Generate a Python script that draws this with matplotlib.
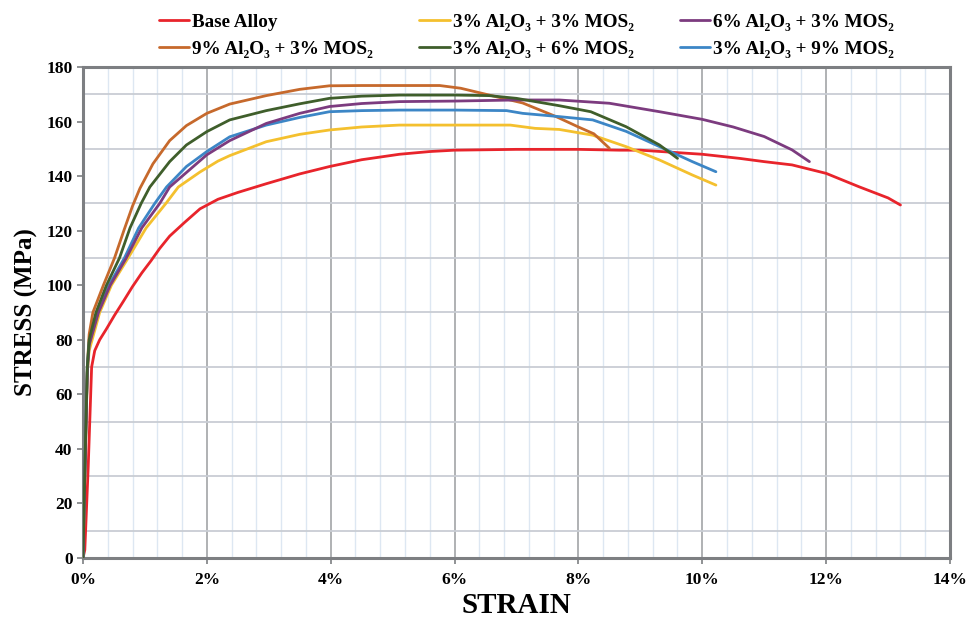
import matplotlib
matplotlib.use("Agg")
import matplotlib.pyplot as plt
from matplotlib.ticker import MultipleLocator, FixedLocator, FuncFormatter

# Tensile curves: strain (%) vs stress (MPa)
base_strain = [0, 0.03, 0.085, 0.14, 0.19, 0.27, 0.38, 0.51, 0.65, 0.80, 0.95, 1.10, 1.24, 1.40, 1.64,
               1.89, 2.18, 2.5, 2.96, 3.5, 3.98, 4.5, 5.11, 5.6, 6.0, 7.0, 8.0, 8.66, 9.0, 10.0, 10.6,
               11.0, 11.45, 12.0, 12.53, 13.0, 13.2]
base_stress = [0, 3, 33.5, 70, 76, 80, 84, 89, 94, 99.5, 104.5, 109, 113.5, 118, 123,
               128, 131.5, 134, 137.2, 140.8, 143.5, 146, 148, 149, 149.5, 149.8, 149.8, 149.5, 149.5, 148, 146.5,
               145.3, 144.1, 141, 136.1, 132, 129.4]

a9m3_strain = [0, 0.04, 0.07, 0.10, 0.16, 0.33, 0.51, 0.66, 0.80, 0.92, 1.13, 1.40, 1.67, 2.0, 2.37,
               2.96, 3.5, 3.98, 4.5, 5.11, 5.76, 6.1, 6.56, 7.1, 7.64, 8.0, 8.25, 8.5]
a9m3_stress = [0, 40, 70, 82, 90, 100, 110, 120, 129, 135.5, 144.5, 153, 158.5, 163, 166.4,
               169.5, 171.8, 173.1, 173.2, 173.2, 173.2, 172.2, 169.7, 166.8, 161.8, 158, 155.5, 150.2]

a3m3_strain = [0, 0.04, 0.07, 0.10, 0.27, 0.46, 0.73, 1.02, 1.34, 1.54, 1.89, 2.18, 2.37, 2.96, 3.5,
               3.98, 4.5, 5.11, 6.0, 6.9, 7.3, 7.69, 8.23, 8.77, 9.31, 9.84, 10.22]
a3m3_stress = [0, 40, 68, 76, 90, 100, 110, 121, 130, 136, 141.5, 145.5, 147.5, 152.6, 155.3,
               156.9, 158, 158.7, 158.7, 158.7, 157.5, 157.1, 155, 150.8, 145.9, 140.4, 136.7]

a3m6_strain = [0, 0.04, 0.07, 0.10, 0.21, 0.38, 0.59, 0.76, 0.94, 1.08, 1.40, 1.67, 2.0, 2.37, 2.96,
               3.5, 3.98, 4.5, 5.11, 6.0, 6.56, 7.0, 7.69, 8.2, 8.77, 9.31, 9.6]
a3m6_stress = [0, 42, 70, 80, 90, 100, 110, 121, 130, 136, 145.3, 151.4, 156.3, 160.6, 164,
               166.5, 168.5, 169.3, 169.7, 169.7, 169.5, 168.5, 165.8, 163.6, 158.1, 151.4, 146.5]

a6m3_strain = [0, 0.04, 0.07, 0.10, 0.25, 0.44, 0.70, 0.95, 1.24, 1.40, 2.0, 2.37, 2.96, 3.5, 3.98,
               4.5, 5.11, 6.0, 7.0, 7.69, 8.5, 9.31, 10.0, 10.5, 11.0, 11.45, 11.73]
a6m3_stress = [0, 40, 68, 78, 90, 100, 110, 121, 130, 136, 147.8, 153, 159.3, 163, 165.5,
               166.6, 167.3, 167.5, 167.9, 167.9, 166.7, 163.6, 160.8, 158, 154.5, 149.6, 145.3]

a3m9_strain = [0, 0.04, 0.07, 0.10, 0.24, 0.42, 0.67, 0.90, 1.16, 1.35, 1.67, 2.0, 2.37, 2.96, 3.5,
               3.98, 4.5, 5.11, 6.0, 6.84, 7.1, 7.69, 8.23, 8.77, 9.31, 9.84, 10.22]
a3m9_stress = [0, 42, 70, 79, 90, 100, 110, 121, 130, 136, 143.5, 149, 154.4, 158.7, 161.5,
               163.6, 164, 164.2, 164.2, 164, 163, 161.8, 160.6, 156.4, 150.8, 145.3, 141.6]

labels = ["Base Alloy",
          "9% Al\u2082O\u2083 + 3% MOS\u2082",
          "3% Al\u2082O\u2083 + 3% MOS\u2082",
          "3% Al\u2082O\u2083 + 6% MOS\u2082",
          "6% Al\u2082O\u2083 + 3% MOS\u2082",
          "3% Al\u2082O\u2083 + 9% MOS\u2082"]
series = [(base_strain, base_stress), (a9m3_strain, a9m3_stress), (a3m3_strain, a3m3_stress),
          (a3m6_strain, a3m6_stress), (a6m3_strain, a6m3_stress), (a3m9_strain, a3m9_stress)]
colors = ["#e8242b", "#c6692c", "#f4c02e", "#3f5e2b", "#7c3b7f", "#3c86c6"]

x_ticks = [0, 2, 4, 6, 8, 10, 12, 14]
y_ticks = [0, 20, 40, 60, 80, 100, 120, 140, 160, 180]
h_grid = [10, 30, 50, 70, 90, 110, 130, 150, 170]

serif = ["Liberation Serif", "DejaVu Serif"]
plt.rcParams["font.family"] = serif

fig = plt.figure(figsize=(9.68, 6.23), dpi=100)
ax = fig.add_axes([0.0857, 0.1043, 0.8957, 0.7882])

# draw order: base alloy and yellow below, others above
z_order = [2, 3, 2.5, 3.2, 3.1, 3.05]
handles = []
for (xs, ys), lab, col, z in zip(series, labels, colors, z_order):
    h, = ax.plot(xs, ys, color=col, lw=2.0, label=lab, zorder=z,
                 solid_joinstyle="round", solid_capstyle="round")
    handles.append(h)

ax.set_xlim(0, 14)
ax.set_ylim(0, 180)
ax.xaxis.set_major_locator(FixedLocator(x_ticks))
ax.xaxis.set_minor_locator(MultipleLocator(0.4))
ax.yaxis.set_major_locator(FixedLocator(y_ticks))
ax.yaxis.set_minor_locator(FixedLocator(h_grid))
ax.xaxis.set_major_formatter(FuncFormatter(lambda v, p: f"{v:.0f}%"))

ax.grid(which="major", axis="x", color="#a9abae", lw=1.3, zorder=0)
ax.grid(which="minor", axis="x", color="#dde7f2", lw=1.0, zorder=0)
ax.grid(which="minor", axis="y", color="#c9cdd4", lw=1.3, zorder=0)
ax.set_axisbelow(True)

for s in ax.spines.values():
    s.set_color("#7d7f82")
    s.set_linewidth(2.2)

ax.tick_params(axis="both", which="major", labelsize=12.5, length=4, color="#7d7f82", width=1.2)
ax.tick_params(axis="both", which="minor", length=0)
for t in ax.get_xticklabels() + ax.get_yticklabels():
    t.set_fontweight("bold")
ax.tick_params(axis="x", pad=6)

ax.set_xlabel("STRAIN", fontsize=21, fontweight="bold", labelpad=3)
ax.set_ylabel("STRESS (MPa)", fontsize=18, fontweight="bold", labelpad=6)

fig.legend(handles=handles, labels=labels, ncol=3, loc="upper left",
           bbox_to_anchor=(0.150, 1.0), frameon=False, borderpad=0.2,
           prop={"family": serif, "weight": "bold", "size": 13.8},
           handlelength=1.6, handletextpad=0.15, columnspacing=2.4, labelspacing=0.5)

fig.savefig("out.png", dpi=100)
